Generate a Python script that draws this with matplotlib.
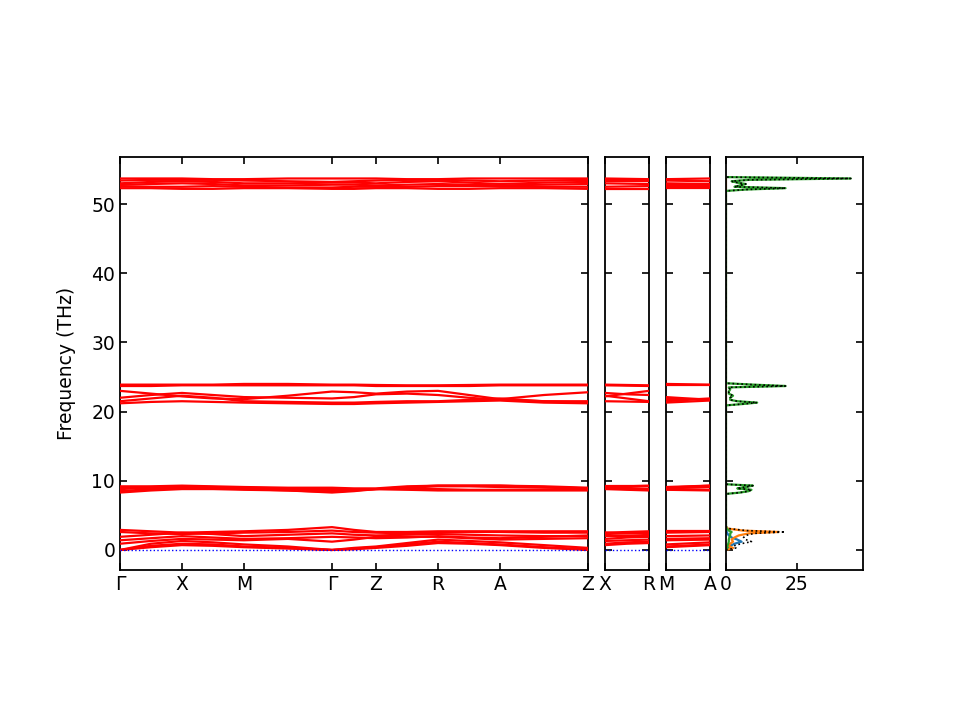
"""Phonon band structure (three path panels) with projected DOS on the right."""

import matplotlib

matplotlib.use("Agg")
import matplotlib.pyplot as plt  # noqa: E402
import numpy as np  # noqa: E402

plt.rcParams["font.size"] = 13.5

# ---- band structure data -------------------------------------------------
# k-path distances (Gamma-X-M-Gamma-Z-R-A-Z), X-R and M-A
K_MAIN = [0.0, 0.5, 1.0, 1.5, 2.0, 2.71, 3.42, 3.775, 4.13, 4.63, 5.13, 5.63, 6.13, 6.84, 7.55]
K_MAIN_TICKS = [0.0, 1.0, 2.0, 3.42, 4.13, 5.13, 6.13, 7.55]
K_MAIN_LABELS = ["Γ", "X", "M", "Γ", "Z", "R", "A", "Z"]
K_SIDE = [0.0, 0.355, 0.71]
XR_LABELS = ["X", "R"]
MA_LABELS = ["M", "A"]

BANDS_MAIN = [
    [0.0, 0.4, 0.7, 0.6, 0.4, 0.2, 0.0, 0.1, 0.3, 0.6, 1.0, 0.9, 0.7, 0.3, 0.0],
    [0.0, 0.6, 0.9, 0.8, 0.5, 0.3, 0.0, 0.2, 0.4, 0.8, 1.2, 1.0, 0.8, 0.4, 0.1],
    [0.0, 0.9, 1.3, 1.1, 0.8, 0.5, 0.0, 0.3, 0.5, 1.0, 1.5, 1.3, 1.1, 0.7, 0.3],
    [0.9, 1.3, 1.6, 1.5, 1.4, 1.6, 1.2, 1.5, 1.9, 1.9, 1.9, 1.7, 1.5, 1.6, 1.7],
    [1.4, 1.7, 2.0, 1.8, 1.6, 1.7, 1.9, 1.8, 1.7, 1.8, 2.0, 1.8, 1.7, 1.9, 2.1],
    [1.9, 2.2, 2.5, 2.3, 2.0, 2.2, 2.4, 2.2, 2.1, 2.2, 2.3, 2.2, 2.1, 2.0, 2.0],
    [2.6, 2.4, 2.3, 2.4, 2.5, 2.6, 2.8, 2.6, 2.5, 2.4, 2.5, 2.6, 2.6, 2.5, 2.5],
    [2.9, 2.7, 2.5, 2.6, 2.7, 2.9, 3.3, 2.9, 2.6, 2.6, 2.7, 2.7, 2.7, 2.7, 2.7],
    [8.3, 8.6, 8.8, 8.8, 8.7, 8.6, 8.3, 8.5, 8.8, 8.7, 8.6, 8.6, 8.6, 8.6, 8.6],
    [8.5, 8.8, 8.9, 8.9, 8.8, 8.6, 8.4, 8.6, 8.8, 8.8, 8.8, 8.7, 8.7, 8.7, 8.7],
    [8.8, 9.0, 9.0, 9.0, 8.9, 8.8, 8.6, 8.7, 8.8, 9.0, 9.2, 9.2, 9.1, 9.0, 8.9],
    [9.0, 9.1, 9.2, 9.1, 9.0, 8.9, 8.8, 8.8, 8.8, 9.1, 9.3, 9.3, 9.3, 9.1, 8.9],
    [9.2, 9.2, 9.3, 9.2, 9.1, 9.0, 9.0, 8.9, 8.9, 9.2, 9.3, 9.3, 9.3, 9.2, 9.0],
    [23.9, 23.9, 23.9, 23.9, 24.0, 24.0, 23.9, 23.9, 23.85, 23.8, 23.8, 23.85, 23.9, 23.9, 23.9],
    [23.7, 23.7, 23.8, 23.8, 23.8, 23.8, 23.8, 23.8, 23.7, 23.7, 23.7, 23.7, 23.8, 23.8, 23.8],
    [23.0, 22.6, 22.2, 21.9, 21.8, 22.3, 22.9, 22.8, 22.6, 22.9, 23.0, 22.4, 21.8, 22.4, 22.8],
    [22.0, 22.4, 22.7, 22.4, 22.1, 22.0, 21.9, 22.1, 22.5, 22.6, 22.4, 22.0, 21.7, 21.5, 21.5],
    [21.5, 21.9, 22.3, 22.0, 21.5, 21.4, 21.3, 21.3, 21.4, 21.5, 21.5, 21.7, 21.9, 21.5, 21.3],
    [21.2, 21.4, 21.5, 21.4, 21.3, 21.2, 21.1, 21.1, 21.2, 21.3, 21.4, 21.5, 21.6, 21.3, 21.2],
    [53.7, 53.7, 53.7, 53.6, 53.6, 53.7, 53.7, 53.7, 53.7, 53.6, 53.6, 53.7, 53.7, 53.7, 53.7],
    [53.4, 53.5, 53.5, 53.5, 53.4, 53.3, 53.2, 53.3, 53.4, 53.5, 53.5, 53.4, 53.3, 53.4, 53.5],
    [53.0, 53.2, 53.3, 53.2, 53.0, 53.0, 53.1, 53.1, 53.0, 53.2, 53.3, 53.1, 52.9, 53.1, 53.2],
    [52.8, 52.9, 53.0, 52.9, 52.7, 52.7, 52.8, 52.8, 52.7, 52.8, 52.9, 52.8, 52.7, 52.8, 52.9],
    [52.6, 52.5, 52.5, 52.6, 52.5, 52.4, 52.4, 52.5, 52.5, 52.5, 52.6, 52.6, 52.6, 52.5, 52.5],
    [52.3, 52.3, 52.2, 52.2, 52.3, 52.3, 52.2, 52.2, 52.3, 52.3, 52.2, 52.2, 52.3, 52.3, 52.2],
]

BANDS_XR = [
    [0.7, 0.9, 1.0], [0.9, 1.1, 1.2], [1.3, 1.4, 1.5], [1.6, 1.8, 1.9],
    [2.0, 2.0, 2.0], [2.5, 2.4, 2.3], [2.3, 2.4, 2.5], [2.5, 2.6, 2.7],
    [8.8, 8.7, 8.6], [8.9, 8.8, 8.8], [9.0, 9.1, 9.2], [9.2, 9.2, 9.3], [9.3, 9.3, 9.3],
    [23.9, 23.85, 23.8], [23.8, 23.75, 23.7], [22.2, 22.6, 23.0], [22.7, 22.5, 22.4],
    [22.3, 21.9, 21.5], [21.5, 21.45, 21.4],
    [53.7, 53.65, 53.6], [53.5, 53.5, 53.5], [53.3, 53.3, 53.3], [53.0, 52.95, 52.9],
    [52.5, 52.55, 52.6], [52.2, 52.2, 52.2],
]

BANDS_MA = [
    [0.4, 0.55, 0.7], [0.5, 0.65, 0.8], [0.8, 0.95, 1.1], [1.4, 1.45, 1.5],
    [1.6, 1.65, 1.7], [2.0, 2.05, 2.1], [2.5, 2.55, 2.6], [2.7, 2.7, 2.7],
    [8.7, 8.65, 8.6], [8.8, 8.75, 8.7], [8.9, 9.0, 9.1], [9.0, 9.15, 9.3], [9.1, 9.2, 9.3],
    [24.0, 23.95, 23.9], [23.8, 23.8, 23.8], [21.8, 21.8, 21.8], [22.1, 21.9, 21.7],
    [21.5, 21.7, 21.9], [21.3, 21.45, 21.6],
    [53.6, 53.65, 53.7], [53.4, 53.35, 53.3], [53.0, 52.95, 52.9], [52.7, 52.7, 52.7],
    [52.5, 52.55, 52.6], [52.3, 52.3, 52.3],
]

# ---- projected DOS --------------------------------------------------------
DOS_FREQ = [
    0.0, 0.3, 0.6, 0.9, 1.2, 1.5, 1.8, 2.1, 2.4, 2.6, 2.8, 3.1, 3.4,
    8.1, 8.3, 8.5, 8.7, 8.9, 9.1, 9.3, 9.5,
    20.9, 21.1, 21.3, 21.5, 21.7, 22.0, 22.3, 22.6, 22.9, 23.2, 23.5, 23.7, 23.9, 24.1,
    51.9, 52.1, 52.3, 52.5, 52.7, 52.9, 53.1, 53.3, 53.5, 53.7, 53.9,
]
DOS_A = [
    0.0, 0.5, 1.5, 3.0, 5.5, 4.0, 2.0, 1.0, 0.5, 0.3, 0.2, 0.0, 0.0,
    0, 0, 0, 0, 0, 0, 0, 0,
    0, 0, 0, 0, 0, 0, 0, 0, 0, 0, 0, 0, 0, 0,
    0, 0, 0, 0, 0, 0, 0, 0, 0, 0, 0,
]
DOS_B = [
    0.0, 2.5, 0.8, 1.5, 2.5, 2.0, 3.0, 4.5, 8.0, 18.5, 6.0, 0.5, 0.0,
    0, 0, 0, 0, 0, 0, 0, 0,
    0, 0, 0, 0, 0, 0, 0, 0, 0, 0, 0, 0, 0, 0,
    0, 0, 0, 0, 0, 0, 0, 0, 0, 0, 0,
]
DOS_C = [
    0.0, 0.5, 0.5, 0.8, 1.0, 1.0, 1.2, 1.5, 1.5, 2.0, 1.0, 0.3, 0.0,
    0.0, 5.0, 8.0, 9.0, 4.0, 7.0, 9.5, 0.0,
    0.0, 6.0, 11.0, 4.0, 1.5, 1.5, 2.5, 1.0, 1.0, 1.5, 1.0, 21.0, 9.5, 0.0,
    0.0, 7.0, 21.0, 3.0, 5.0, 7.0, 4.0, 2.0, 8.0, 44.0, 0.0,
]

YLIM = (-2.9, 56.8)
RED = "red"


def style(ax, xticks, xlabels):
    ax.set_ylim(*YLIM)
    ax.set_yticks([0, 10, 20, 30, 40, 50])
    ax.set_xticks(xticks)
    ax.set_xticklabels(xlabels)
    ax.tick_params(direction="in", top=True, right=True, width=1.2, length=5)
    for sp in ax.spines.values():
        sp.set_linewidth(1.3)


fig = plt.figure(figsize=(9.6, 7.2), dpi=100)
bot, hgt = 0.2083, 0.5736
ax1 = fig.add_axes([0.125, bot, 0.4875, hgt])
ax2 = fig.add_axes([0.6302, bot, 0.0458, hgt])
ax3 = fig.add_axes([0.6937, bot, 0.0458, hgt])
ax4 = fig.add_axes([0.7562, bot, 0.1427, hgt])

for ax, kx, bands in ((ax1, K_MAIN, BANDS_MAIN), (ax2, K_SIDE, BANDS_XR), (ax3, K_SIDE, BANDS_MA)):
    for b in bands:
        ax.plot(kx, b, color=RED, lw=1.6, zorder=3)
    ax.axhline(0, color="blue", ls=":", lw=1, zorder=4)
    ax.set_xlim(kx[0], kx[-1])

style(ax1, K_MAIN_TICKS, K_MAIN_LABELS)
style(ax2, K_SIDE[::2], XR_LABELS)
style(ax3, K_SIDE[::2], MA_LABELS)
ax1.set_ylabel("Frequency (THz)", labelpad=11)
for ax in (ax2, ax3, ax4):
    ax.set_yticklabels([])

freq = np.array(DOS_FREQ)
total = np.array(DOS_A) + np.array(DOS_B) + np.array(DOS_C)
ax4.plot(DOS_A, freq, color="#1f77b4", lw=1.6)
ax4.plot(DOS_B, freq, color="#ff7f0e", lw=1.6)
ax4.plot(DOS_C, freq, color="#2ca02c", lw=1.6)
ax4.plot(total, freq, color="black", ls=":", lw=1.2)
ax4.set_xlim(0, 48.3)
style(ax4, [0, 25], ["0", "25"])
ax4.set_yticklabels([])

fig.savefig("out.png", dpi=100, facecolor="white")
